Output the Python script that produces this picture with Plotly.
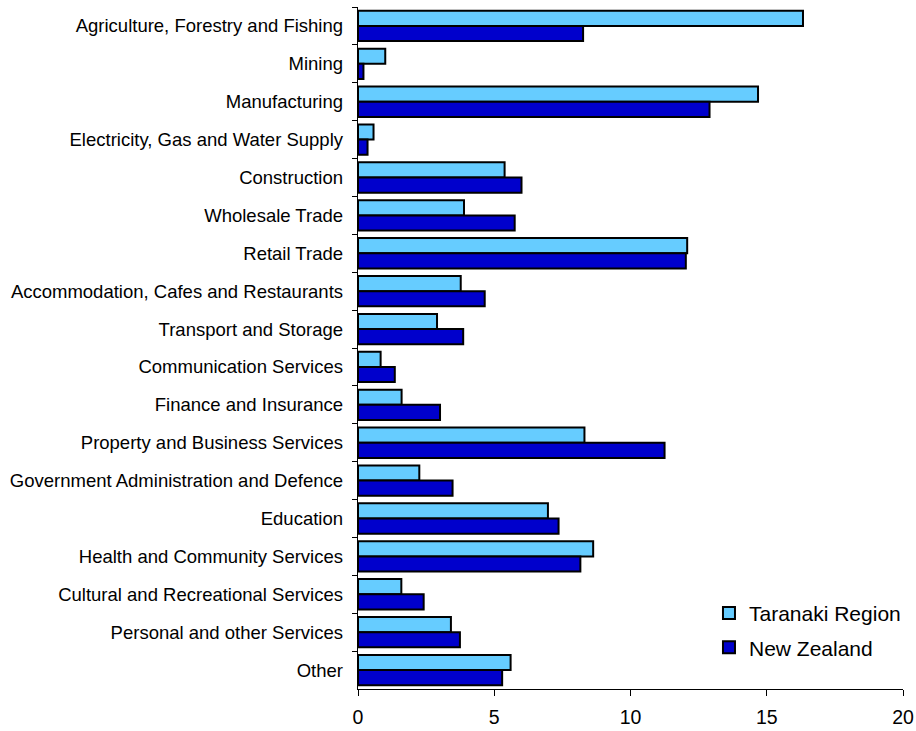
import plotly.graph_objects as go

categories = [
    "Agriculture, Forestry and Fishing",
    "Mining",
    "Manufacturing",
    "Electricity, Gas and Water Supply",
    "Construction",
    "Wholesale Trade",
    "Retail Trade",
    "Accommodation, Cafes and Restaurants",
    "Transport and Storage",
    "Communication Services",
    "Finance and Insurance",
    "Property and Business Services",
    "Government Administration and Defence",
    "Education",
    "Health and Community Services",
    "Cultural and Recreational Services",
    "Personal and other Services",
    "Other",
]
taranaki = [16.33, 1.0, 14.68, 0.57, 5.38, 3.89, 12.08, 3.77, 2.9, 0.83, 1.6, 8.31,
            2.25, 6.97, 8.63, 1.59, 3.41, 5.60]
new_zealand = [8.26, 0.2, 12.9, 0.35, 6.0, 5.75, 12.03, 4.65, 3.86, 1.35, 3.01, 11.25,
               3.47, 7.36, 8.16, 2.41, 3.74, 5.29]
x_ticks = [0, 5, 10, 15, 20]

FONT = "Liberation Sans, Arial, sans-serif"

fig = go.Figure()
fig.add_trace(go.Bar(
    y=categories, x=taranaki, orientation="h", name="Taranaki Region",
    legendgroup="a",
    marker=dict(color="#66CCFF", line=dict(color="black", width=2)),
))
fig.add_trace(go.Bar(
    y=categories, x=new_zealand, orientation="h", name="New Zealand",
    legendgroup="b",
    marker=dict(color="#0000CC", line=dict(color="black", width=2)),
))

fig.update_layout(
    width=916, height=731,
    margin=dict(l=358, r=13, t=7, b=42),
    paper_bgcolor="white", plot_bgcolor="white",
    barmode="group", bargap=0.2, bargroupgap=0,
    font=dict(family=FONT, size=18, color="black"),
    showlegend=True,
    legend=dict(
        x=0.644, y=0.0859, xanchor="left", yanchor="middle",
        traceorder="grouped", tracegroupgap=4,
        font=dict(family=FONT, size=21, color="black"),
        bgcolor="rgba(0,0,0,0)",
    ),
    xaxis=dict(
        range=[0, 20], tickvals=x_ticks, ticks="outside", ticklen=6,
        tickcolor="black", showline=True, linecolor="black", linewidth=1,
        showgrid=False, zeroline=False, tickfont=dict(size=19.5),
        ticklabelstandoff=5, automargin=False,
    ),
    yaxis=dict(
        autorange="reversed", type="category", tickson="boundaries",
        ticks="outside", ticklen=5, tickcolor="black",
        showline=True, linecolor="black", linewidth=1, showgrid=False,
        tickfont=dict(size=18.5), ticksuffix="  ", automargin=False,
    ),
)

fig.write_html(
    "out.html",
    config={"displayModeBar": False},
    post_script="document.body.style.margin='0';document.body.style.overflow='hidden';",
)
